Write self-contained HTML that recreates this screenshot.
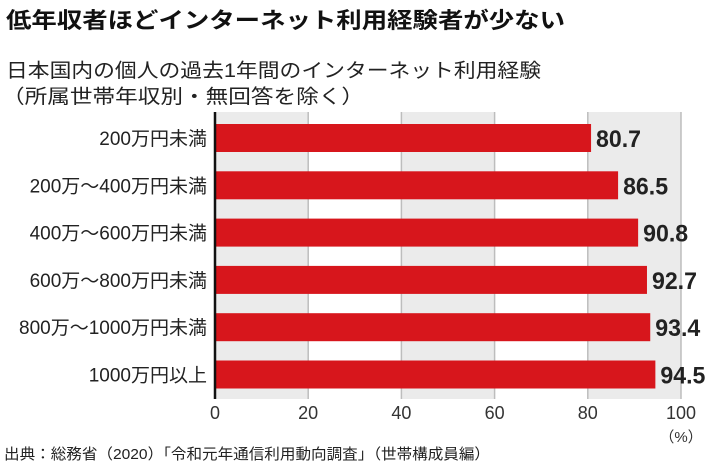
<!DOCTYPE html>
<html><head><meta charset="utf-8">
<style>
body{margin:0;background:#fff;width:710px;height:468px;overflow:hidden;font-family:"Liberation Sans","Noto Sans CJK JP",sans-serif;color:#222}
svg text{font-family:"Liberation Sans","Noto Sans CJK JP",sans-serif}
</style></head><body>
<svg width="710" height="468">
<text x="6" y="28" font-size="22" font-weight="bold" fill="#111" textLength="559" lengthAdjust="spacingAndGlyphs">低年収者ほどインターネット利用経験者が少ない</text>
<text x="6" y="77" font-size="19.5" fill="#222" textLength="535" lengthAdjust="spacingAndGlyphs">日本国内の個人の過去1年間のインターネット利用経験</text>
<text x="2" y="103" font-size="19.5" fill="#222" textLength="362" lengthAdjust="spacingAndGlyphs">（所属世帯年収別・無回答を除く）</text>
<g id="bands"></g><g id="grid"></g><g id="bars"></g><g id="labels"></g><g id="ticks"></g>
<line x1="215" y1="112" x2="215" y2="399" stroke="#111" stroke-width="2.5"/>
<text x="681" y="442" font-size="15" text-anchor="middle" fill="#333">（%）</text>
<text x="4" y="459" font-size="15" fill="#222" textLength="486" lengthAdjust="spacingAndGlyphs">出典：総務省（2020）「令和元年通信利用動向調査」（世帯構成員編）</text>
</svg>
<script>
const categories=["200万円未満","200万～400万円未満","400万～600万円未満","600万～800万円未満","800万～1000万円未満","1000万円以上"];
const values=[80.7,86.5,90.8,92.7,93.4,94.5];
const tickValues=[0,20,40,60,80,100];
const NS="http://www.w3.org/2000/svg";
const x0=215,x1=681,yTop=112,yBot=399,step=47.3,c0=138,bh=28;
const xs=v=>x0+(v/100)*(x1-x0);
const yc=i=>c0+i*step;
function mk(tag,attrs,parent){const e=document.createElementNS(NS,tag);for(const k in attrs)e.setAttribute(k,attrs[k]);document.getElementById(parent).appendChild(e);return e;}
for(let i=0;i<tickValues.length-1;i++){
  if(i%2===0){const r=mk("rect",{x:xs(tickValues[i]),y:yTop,width:xs(tickValues[i+1])-xs(tickValues[i]),height:yBot-yTop,fill:"#ebebeb"},"bands");
  
  }
}
tickValues.forEach(t=>{
  if(t>0){const l=mk("line",{x1:xs(t),x2:xs(t),y1:yTop,y2:yBot,stroke:"#bdbdbd","stroke-width":1.5},"grid");
  
  }
  const tx=mk("text",{x:xs(t),y:419,"font-size":18,"text-anchor":"middle",fill:"#333"},"ticks");
  tx.textContent=t;
  
  
});
categories.forEach((c,i)=>{
  const b=mk("rect",{x:x0,y:yc(i)-bh/2,width:xs(values[i])-x0,height:bh,fill:"#d7161c"},"bars");
  
  
  const l=mk("text",{x:207,y:yc(i)+7,"font-size":19,"text-anchor":"end",fill:"#222"},"labels");
  l.textContent=c;
  
  
  const v=mk("text",{x:xs(values[i])+5,y:yc(i)+9,"font-size":24,"font-weight":"bold",fill:"#222",textLength:45,lengthAdjust:"spacingAndGlyphs"},"labels");
  v.textContent=values[i].toFixed(1);
  
  
});
</script>
</body></html>
